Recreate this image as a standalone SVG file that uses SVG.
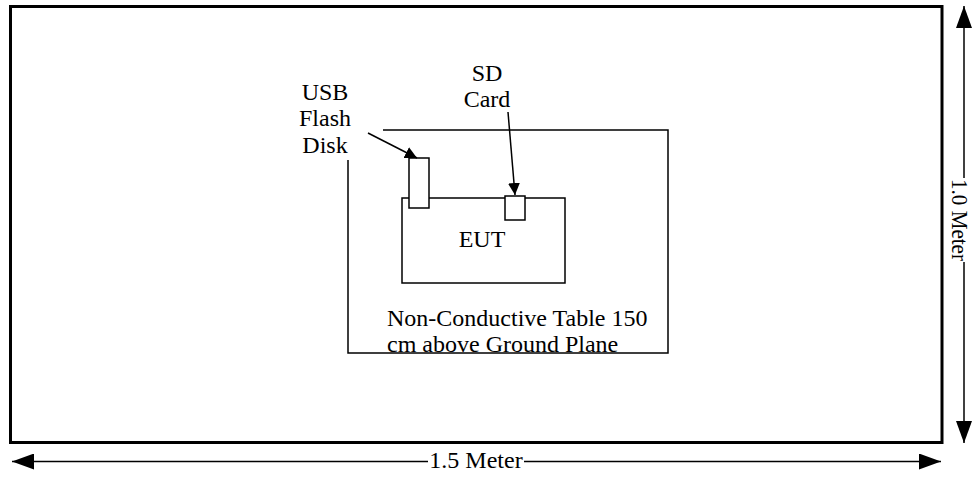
<svg xmlns="http://www.w3.org/2000/svg" width="972" height="477" viewBox="0 0 972 477">
<style>
text{font-family:"Liberation Serif","Times New Roman",serif;font-size:24px;fill:#000}
.thin{fill:none;stroke:#000;stroke-width:1.5}
.box{fill:#fff;stroke:#000;stroke-width:1.5}
</style>
<defs>
<marker id="ah" viewBox="0 0 12 12" refX="12" refY="6" markerWidth="12" markerHeight="12" markerUnits="userSpaceOnUse" orient="auto">
<path d="M0,0 L12,6 L0,12 Z" fill="#000"/>
</marker>
<marker id="big" viewBox="0 0 22 16" refX="22" refY="8" markerWidth="22" markerHeight="16" markerUnits="userSpaceOnUse" orient="auto">
<path d="M0,0 L22,8 L0,16 Z" fill="#000"/>
</marker>
</defs>
<rect id="ground-plane" x="10.5" y="6.5" width="931.5" height="436" fill="#fff" stroke="#000" stroke-width="3"/>
<g id="table">
<path class="thin" d="M348,160 V353 H668 V130 H383"/>
<text x="387" y="326">Non-Conductive Table 150</text>
<text x="387" y="352">cm above Ground Plane</text>
</g>
<g id="eut">
<rect class="box" x="402" y="198" width="163" height="85"/>
<text x="482" y="247" text-anchor="middle">EUT</text>
</g>
<g id="usb">
<rect class="box" x="409" y="158" width="20" height="50"/>
<text x="325" y="100" text-anchor="middle">USB</text>
<text x="325" y="126" text-anchor="middle">Flash</text>
<text x="325" y="153" text-anchor="middle">Disk</text>
</g>
<g id="sd">
<rect class="box" x="505" y="196" width="20" height="24"/>
<text x="487" y="81" text-anchor="middle">SD</text>
<text x="487" y="107" text-anchor="middle">Card</text>
</g>
<g id="connectors">
<line class="thin" x1="368" y1="133" x2="417" y2="158" marker-end="url(#ah)"/>
<line class="thin" x1="508" y1="112" x2="515" y2="195" marker-end="url(#ah)"/>
<line class="thin" x1="220" y1="461.5" x2="12" y2="461.5" marker-end="url(#big)"/>
<line class="thin" x1="428" y1="461.5" x2="220" y2="461.5"/>
<line class="thin" x1="524" y1="461.5" x2="941" y2="461.5" marker-end="url(#big)"/>
<line class="thin" x1="964" y1="100" x2="964" y2="6" marker-end="url(#big)"/>
<line class="thin" x1="964" y1="178" x2="964" y2="100"/>
<line class="thin" x1="964" y1="262" x2="964" y2="443" marker-end="url(#big)"/>
</g>
<g id="dimensions">
<text x="476" y="468" text-anchor="middle">1.5 Meter</text>
<text transform="translate(952,220) rotate(90)" text-anchor="middle" font-size="20" textLength="82" lengthAdjust="spacingAndGlyphs">1.0 Meter</text>
</g>
</svg>
